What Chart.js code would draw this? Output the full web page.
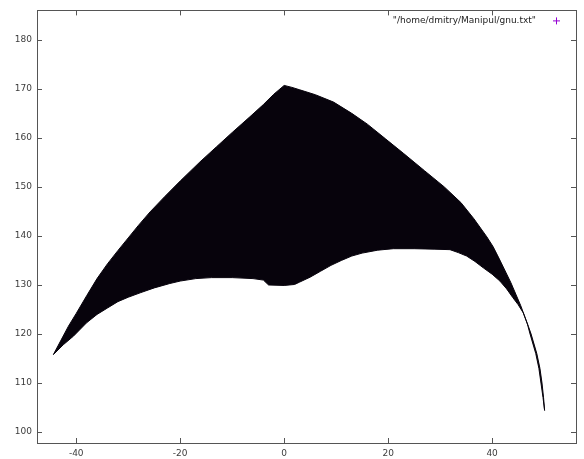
<!DOCTYPE html>
<html>
<head>
<meta charset="utf-8">
<script src="https://cdn.jsdelivr.net/npm/chart.js@4.4.1/dist/chart.umd.min.js"></script>
<style>
  html, body { margin: 0; padding: 0; background: #fff; }
  #wrap { position: relative; width: 584px; height: 459px; }
</style>
</head>
<body>
<div id="wrap"><canvas id="grafico"></canvas></div>
<script>
// borde superior de la región (x, y)
const superiorX = [-44.4, -43.0, -41.5, -40.0, -38.0, -36.0, -34.0, -32.0, -30.0, -28.0, -25.8, -23.0, -20.0, -16.2, -13.0, -10.0, -6.6, -4.0, -2.0, 0.0, 1.5, 3.0, 6.0, 9.5, 13.0, 16.0, 19.5, 23.0, 27.0, 30.8, 34.0, 36.5, 39.0, 40.2, 41.3, 43.6, 45.5, 47.0, 47.5, 48.6, 49.2, 49.6, 49.9, 50.1];
const superiorY = [115.8, 118.6, 121.6, 124.2, 127.8, 131.3, 134.3, 137.0, 139.6, 142.2, 144.9, 148.0, 151.2, 155.1, 158.2, 161.1, 164.3, 166.8, 168.9, 170.7, 170.3, 169.8, 168.8, 167.3, 165.0, 162.8, 159.8, 156.8, 153.3, 150.0, 146.8, 143.5, 139.8, 137.8, 135.5, 130.5, 125.8, 121.5, 120.0, 116.0, 113.0, 110.0, 107.0, 104.4];

// borde inferior de la región (x, y)
const inferiorX = [-44.4, -42.5, -40.5, -38.0, -36.0, -34.0, -32.0, -30.0, -27.7, -25.0, -22.0, -20.0, -17.0, -14.0, -10.0, -6.0, -4.0, -3.0, 0.0, 2.0, 3.0, 5.0, 7.0, 9.0, 11.0, 13.0, 15.0, 18.0, 21.0, 25.0, 29.0, 31.9, 33.5, 35.1, 36.7, 38.3, 40.0, 41.5, 42.8, 44.0, 45.0, 46.0, 46.8, 47.3, 48.4, 49.0, 49.4, 49.8, 50.1];
const inferiorY = [115.8, 117.8, 119.6, 122.3, 124.0, 125.3, 126.6, 127.5, 128.4, 129.4, 130.3, 130.8, 131.3, 131.5, 131.5, 131.3, 131.0, 130.0, 129.9, 130.1, 130.6, 131.6, 132.8, 134.0, 135.0, 135.9, 136.5, 137.1, 137.4, 137.4, 137.3, 137.2, 136.6, 135.9, 134.8, 133.5, 132.2, 130.8, 129.2, 127.4, 126.0, 124.3, 122.0, 120.0, 116.0, 113.0, 110.0, 107.0, 104.4];

const rangoX = [-47.55, 56.14];
const rangoY = [97.77, 186.0];
const pasoX = 20;
const pasoY = 10;
const leyenda = '"/home/dmitry/Manipul/gnu.txt"';

const colorTexto = '#3c3c3c';
const colorBorde = '#555555';
const colorRegion = '#07030c';
const fuente = { family: 'DejaVu Sans', size: 9 };

// contorno cerrado: arriba de izquierda a derecha, abajo de vuelta
const contorno = [];
superiorX.forEach((x, i) => contorno.push({ x: x, y: superiorY[i] }));
for (let i = inferiorX.length - 1; i >= 0; i--) {
    contorno.push({ x: inferiorX[i], y: inferiorY[i] });
}

// marco estilo gnuplot con marcas hacia dentro en los cuatro lados
const marco = {
    id: 'marco',
    afterDatasetsDraw(chart) {
        const { ctx, chartArea: a, scales } = chart;
        const largo = 5;
        ctx.save();
        ctx.strokeStyle = colorBorde;
        ctx.lineWidth = 1;
        ctx.strokeRect(Math.round(a.left) + 0.5, Math.round(a.top) + 0.5,
            Math.round(a.right - a.left), Math.round(a.bottom - a.top));
        ctx.beginPath();
        scales.x.ticks.forEach(t => {
            const px = Math.round(scales.x.getPixelForValue(t.value)) + 0.5;
            ctx.moveTo(px, a.bottom); ctx.lineTo(px, a.bottom - largo);
            ctx.moveTo(px, a.top); ctx.lineTo(px, a.top + largo);
        });
        scales.y.ticks.forEach(t => {
            const py = Math.round(scales.y.getPixelForValue(t.value)) + 0.5;
            ctx.moveTo(a.left, py); ctx.lineTo(a.left + largo, py);
            ctx.moveTo(a.right, py); ctx.lineTo(a.right - largo, py);
        });
        ctx.stroke();

        // leyenda: texto y símbolo a la derecha
        const ly = a.top + 10;
        ctx.font = `${fuente.size}px "${fuente.family}"`;
        ctx.fillStyle = '#222222';
        ctx.textAlign = 'right';
        ctx.textBaseline = 'middle';
        ctx.fillText(leyenda, a.right - 40, ly);
        const cx = a.right - 20;
        ctx.strokeStyle = '#9400d3';
        ctx.beginPath();
        ctx.moveTo(cx - 3, ly + 0.5); ctx.lineTo(cx + 4, ly + 0.5);
        ctx.moveTo(cx + 0.5, ly - 3); ctx.lineTo(cx + 0.5, ly + 4);
        ctx.stroke();
        ctx.restore();
    }
};

const ctx = document.getElementById('grafico').getContext('2d');
const grafico = new Chart(ctx, {
    type: 'scatter',
    data: {
        datasets: [{
            label: leyenda,
            data: contorno,
            showLine: true,
            fill: 'shape',
            tension: 0,
            backgroundColor: colorRegion,
            borderColor: colorRegion,
            borderWidth: 1,
            pointRadius: 0
        }]
    },
    options: {
        responsive: true,
        maintainAspectRatio: false,
        animation: false,
        devicePixelRatio: 1,
        layout: { padding: { top: 8, right: 8, left: 0, bottom: 0 } },
        plugins: {
            legend: { display: false },
            tooltip: { enabled: false }
        },
        scales: {
            x: {
                type: 'linear',
                min: rangoX[0],
                max: rangoX[1],
                grid: { display: false, drawTicks: false },
                border: { display: false },
                ticks: { stepSize: pasoX, includeBounds: false, color: colorTexto, font: fuente, padding: 5, maxRotation: 0 },
                afterFit: s => { s.height = 16; }
            },
            y: {
                type: 'linear',
                min: rangoY[0],
                max: rangoY[1],
                grid: { display: false, drawTicks: false },
                border: { display: false },
                ticks: { stepSize: pasoY, includeBounds: false, color: colorTexto, font: fuente, padding: 5 },
                afterFit: s => { s.width = 37; }
            }
        }
    },
    plugins: [marco]
});
</script>
</body>
</html>
